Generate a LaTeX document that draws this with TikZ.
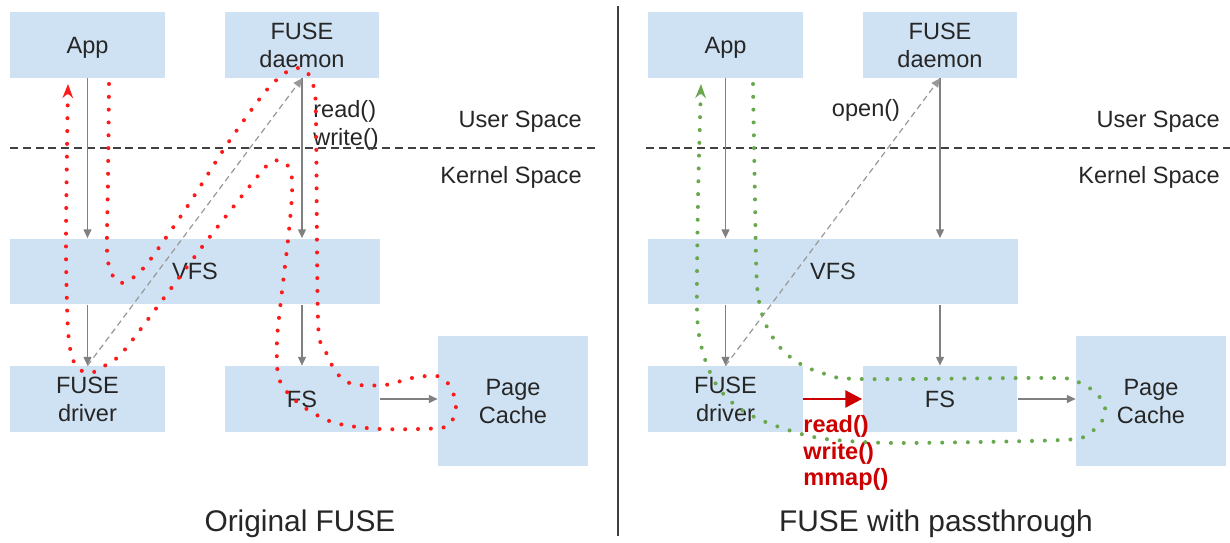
\documentclass[tikz,border=0pt]{standalone}
\usepackage{fontspec}
\setmainfont{Liberation Sans}
\usetikzlibrary{arrows.meta}
\definecolor{boxblue}{HTML}{CFE2F3}
\definecolor{flowred}{HTML}{FF1A1A}
\definecolor{callred}{HTML}{CC0000}
\definecolor{flowgreen}{HTML}{6AA84F}
\tikzset{>={Triangle[width=4.5pt,length=5pt]}}

\begin{document}
\begin{tikzpicture}[x=0.02cm, y=-0.02cm, every node/.style={font=\fontsize{13.4pt}{16pt}\selectfont, text=black!85, inner sep=0pt}, block/.style={fill=boxblue, draw=none, minimum width=3.1cm, minimum height=1.32cm, align=center, text depth=0pt}, call/.style={draw=gray, line width=0.8pt, ->}, reply/.style={draw=gray!80, line width=0.7pt, dash pattern=on 3.4pt off 2.3pt, ->}, border/.style={draw=black!75, line width=0.7pt, dash pattern=on 4.5pt off 2.8pt}, dotflow/.style={line width=2.3pt, line cap=round, dash pattern=on 0pt off 7.3pt, -{Stealth[width=6pt,length=8pt]}}, title/.style={font=\fontsize{17pt}{20pt}\selectfont}]
    \useasboundingbox (0,0) rectangle (1230,543);

    %Original FUSE
    \node[block](oapp) at (87.5,45){App};
    \node[block](odaemon) at (302,45){FUSE\\daemon};
    \node[block, minimum width=7.4cm](ovfs) at (195,271.5){VFS};
    \node[block](odriver) at (87.5,399){FUSE\\driver};
    \node[block](ofs) at (302,399){FS};
    \node[block, minimum width=3cm, minimum height=2.6cm](ocache) at (513,401){Page\\Cache};
    \node[anchor=west, align=left](orw) at (313,125){read()\\write()};
    \node[anchor=east](ouser) at (582,122){User Space};
    \node[anchor=east](okernel) at (582,177){Kernel Space};
    \node[title](otitle) at (300,524){Original FUSE};

    %FUSE with passthrough
    \node[block](papp) at (725.5,45){App};
    \node[block](pdaemon) at (940,45){FUSE\\daemon};
    \node[block, minimum width=7.4cm](pvfs) at (833,271.5){VFS};
    \node[block](pdriver) at (725.5,399){FUSE\\driver};
    \node[block](pfs) at (940,399){FS};
    \node[block, minimum width=3cm, minimum height=2.6cm](pcache) at (1151,401){Page\\Cache};
    \node(popen) at (866,110){open()};
    \node[anchor=east](puser) at (1220,122){User Space};
    \node[anchor=east](pkernel) at (1220,177){Kernel Space};
    \node[anchor=west, align=left, font=\bfseries\fontsize{13.4pt}{15pt}\selectfont, text=callred](pcalls) at (803,453){read()\\write()\\mmap()};
    \node[title](ptitle) at (936,524){FUSE with passthrough};

    %Separators
    \draw[black!75, line width=0.8pt] (618,6) -- (618,536);
    \draw[border] (10,148) -- (595,148);
    \draw[border] (646,148) -- (1230,148);

    %Lines
    \draw[call] (oapp.south) -- (oapp.south |- ovfs.north);
    \draw[call] (odriver.north |- ovfs.south) -- (odriver.north);
    \draw[call] (odaemon.south) -- (odaemon.south |- ovfs.north);
    \draw[call] (ofs.north |- ovfs.south) -- (ofs.north);
    \draw[call] (ofs.east) -- (ofs.east -| ocache.west);
    \draw[reply] (odriver.north) -- (odaemon.south);
    \draw[call] (papp.south) -- (papp.south |- pvfs.north);
    \draw[call] (pdriver.north |- pvfs.south) -- (pdriver.north);
    \draw[call] (pdaemon.south) -- (pdaemon.south |- pvfs.north);
    \draw[call] (pfs.north |- pvfs.south) -- (pfs.north);
    \draw[call] (pfs.east) -- (pfs.east -| pcache.west);
    \draw[reply] (pdriver.north) -- (pdaemon.south);
    \draw[callred, line width=1.7pt, -{Triangle[width=9.5pt,length=9.5pt]}] (pdriver.east) -- (pfs.west);

    %Data paths
    \draw[dotflow, flowred] plot[smooth, tension=0.5] coordinates {(109,84) (108,180) (107,250) (111,272) (120,283) (134,277) (150,260) (187,207) (228,143) (265,92) (285,73) (297,68) (307,72) (314,88) (316,120) (318,320) (324,347) (336,372) (352,384) (385,385) (412,378) (437,376) (450,386) (456,405) (452,421) (440,428) (380,429) (335,423) (305,408) (287,392) (278,375) (277,340) (281,300) (288,240) (292,195) (291,172) (284,162) (274,161) (262,171) (202,247) (127,347) (110,362) (94,372) (82,371) (73,360) (68,330) (66,250) (67,150) (68,84)};
    \draw[dotflow, flowgreen] plot[smooth, tension=0.5] coordinates {(753,84) (755,200) (757,285) (764,320) (778,345) (797,362) (822,373) (860,379) (1052,378) (1078,382) (1096,393) (1105,407) (1102,421) (1088,434) (1062,440) (900,443) (835,440) (805,435) (768,423) (740,409) (720,390) (709,370) (701,345) (697,310) (698,200) (701,84)};
\end{tikzpicture}
\end{document}
